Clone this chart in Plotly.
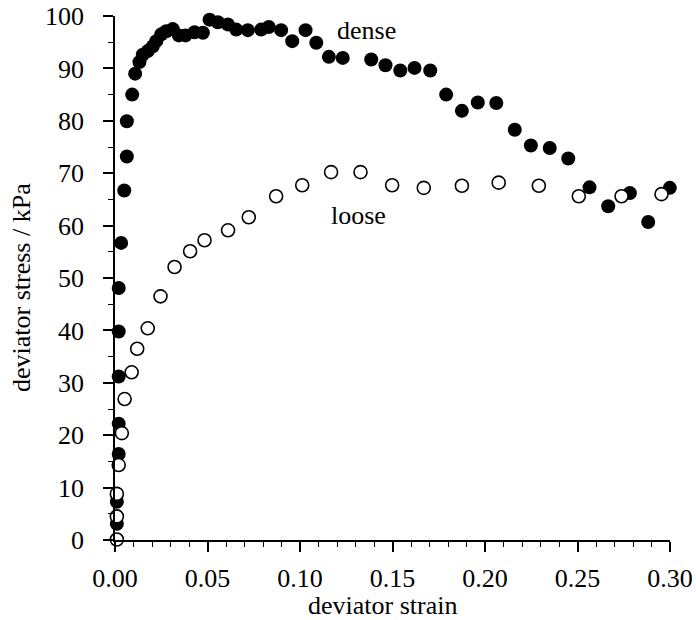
import plotly.graph_objects as go

# Dense sample (filled circles)
dense_strain = [0.001, 0.001, 0.002, 0.002, 0.002, 0.002, 0.002, 0.0033, 0.005, 0.0064,
                0.0064, 0.0093, 0.0109, 0.0132, 0.015, 0.0177, 0.0204, 0.0223, 0.025, 0.0277,
                0.0312, 0.0345, 0.0381, 0.043, 0.0475, 0.0511, 0.0556, 0.061, 0.0655, 0.0718,
                0.079, 0.0831, 0.0898, 0.0958, 0.103, 0.1088, 0.1156, 0.1231, 0.1385, 0.1462,
                0.1542, 0.1619, 0.1704, 0.179, 0.1875, 0.1961, 0.2061, 0.2161, 0.2248, 0.235,
                0.245, 0.2565, 0.2666, 0.2783, 0.2882, 0.2999]
dense_stress = [3.1, 7.3, 16.4, 22.2, 31.2, 39.8, 48.1, 56.7, 66.7, 73.2,
                79.9, 85.0, 89.0, 91.2, 92.6, 93.3, 94.2, 95.2, 96.5, 97.1,
                97.5, 96.3, 96.3, 96.9, 96.8, 99.3, 98.8, 98.4, 97.4, 97.3,
                97.4, 97.9, 97.3, 95.2, 97.3, 94.9, 92.2, 92.0, 91.7, 90.6,
                89.6, 90.1, 89.6, 85.0, 81.9, 83.5, 83.4, 78.3, 75.3, 74.8,
                72.8, 67.3, 63.7, 66.2, 60.7, 67.2]

# Loose sample (open circles)
loose_strain = [0.001, 0.001, 0.001, 0.002, 0.0037, 0.0052, 0.009, 0.012, 0.0177, 0.0246,
                0.0322, 0.0406, 0.0484, 0.0611, 0.0723, 0.0871, 0.1012, 0.1168, 0.1327, 0.1498,
                0.1669, 0.1875, 0.2074, 0.2291, 0.2507, 0.2738, 0.2954]
loose_stress = [0.1, 4.5, 8.8, 14.3, 20.4, 26.9, 32.0, 36.5, 40.4, 46.5,
                52.1, 55.1, 57.2, 59.1, 61.6, 65.6, 67.7, 70.2, 70.2, 67.7,
                67.2, 67.6, 68.2, 67.6, 65.6, 65.6, 66.0]

x_ticks = [0.00, 0.05, 0.10, 0.15, 0.20, 0.25, 0.30]
x_tick_labels = ["0.00", "0.05", "0.10", "0.15", "0.20", "0.25", "0.30"]
y_ticks = [0, 10, 20, 30, 40, 50, 60, 70, 80, 90, 100]

FONT = "Liberation Serif"

fig = go.Figure()
fig.add_trace(go.Scatter(
    x=dense_strain, y=dense_stress, mode="markers", name="dense",
    marker=dict(symbol="circle", size=14, color="black", line=dict(width=0)),
    cliponaxis=False))
fig.add_trace(go.Scatter(
    x=loose_strain, y=loose_stress, mode="markers", name="loose",
    marker=dict(symbol="circle", size=13, color="white", line=dict(width=1.6, color="black")),
    cliponaxis=False))

fig.add_annotation(x=0.1362, y=97.2, text="dense", showarrow=False,
                   font=dict(family=FONT, size=26, color="black"), xanchor="center", yanchor="middle")
fig.add_annotation(x=0.1316, y=62.0, text="loose", showarrow=False,
                   font=dict(family=FONT, size=26, color="black"), xanchor="center", yanchor="middle")

# axis titles
fig.add_annotation(xref="paper", yref="paper", x=(382 - 115) / 555, y=(540 - 605) / 524,
                   text="deviator strain", showarrow=False,
                   font=dict(family=FONT, size=26, color="black"), xanchor="center", yanchor="middle")
fig.add_annotation(xref="paper", yref="paper", x=(21 - 115) / 555, y=(540 - 288) / 524,
                   text="deviator stress / kPa", showarrow=False, textangle=-90,
                   font=dict(family=FONT, size=26, color="black"), xanchor="center", yanchor="middle")

fig.update_layout(
    width=696, height=620,
    margin=dict(l=115, r=26, t=16, b=80),
    plot_bgcolor="white", paper_bgcolor="white",
    showlegend=False,
    font=dict(family=FONT, size=26, color="black"),
    xaxis=dict(range=[0, 0.30], tickvals=x_ticks, ticktext=x_tick_labels, automargin=False,
               showgrid=False, zeroline=False, showline=True, linecolor="black", linewidth=1.5,
               ticks="outside", ticklen=10, tickwidth=1.5, tickcolor="black",
               ticklabelstandoff=4,
               minor=dict(dtick=0.01, ticks="outside", ticklen=5, tickwidth=1.2, tickcolor="black"),
               tickfont=dict(family=FONT, size=26, color="black")),
    yaxis=dict(range=[0, 100], tickvals=y_ticks, automargin=False,
               showgrid=False, zeroline=False, showline=True, linecolor="black", linewidth=1.5,
               ticks="outside", ticklen=10, tickwidth=1.5, tickcolor="black",
               ticklabelstandoff=14,
               minor=dict(dtick=5, ticks="outside", ticklen=5, tickwidth=1.2, tickcolor="black"),
               tickfont=dict(family=FONT, size=26, color="black")),
)

fig.write_html("out.html",
               config={"displayModeBar": False},
               post_script="document.body.style.margin='0';document.body.style.overflow='hidden';")
